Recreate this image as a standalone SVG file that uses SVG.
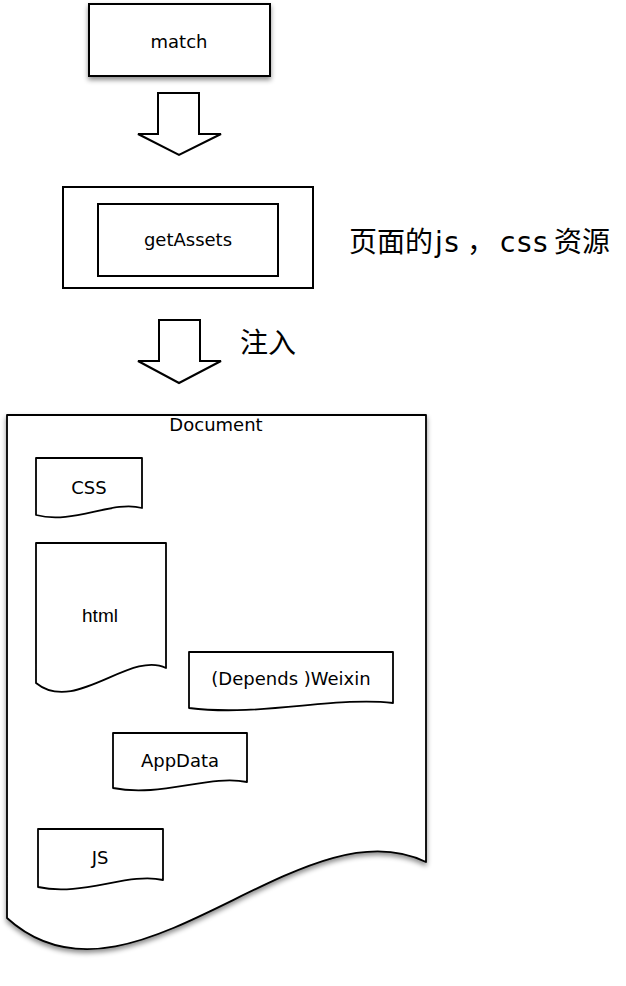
<svg xmlns="http://www.w3.org/2000/svg" width="626" height="986" viewBox="0 0 626 986">
<defs>
<filter id="sh" x="-10%" y="-10%" width="120%" height="130%">
<feDropShadow dx="0" dy="3" stdDeviation="2.5" flood-color="#000" flood-opacity="0.45"/>
</filter>
<style>
.box{fill:#fff;stroke:#000;stroke-width:2}
.doc{fill:#fff;stroke:#000;stroke-width:1.8;stroke-linejoin:round}
.arrow{fill:#fff;stroke:#000;stroke-width:2;stroke-linejoin:miter}
.lbl{font-family:"DejaVu Sans","Liberation Sans",sans-serif;font-size:18px;fill:#000;text-anchor:middle}
.hel{font-family:"Liberation Sans",Arial,sans-serif;font-size:19px;fill:#000;text-anchor:middle}
.cjk{font-family:"Liberation Sans","Noto Sans CJK SC",sans-serif;font-size:28px;fill:#000}
.lat{font-family:"DejaVu Sans","Noto Sans CJK SC",sans-serif;letter-spacing:1.5px}
</style>
</defs>
<rect width="626" height="986" fill="#fff"/>

<g id="match">
<rect class="box" x="89" y="4" width="181" height="72" filter="url(#sh)"/>
<text class="lbl" x="179" y="48" font-size="19.5">match</text>
</g>

<g id="getAssets-outer">
<rect class="box" x="63" y="187" width="250" height="101"/>
</g>
<g id="getAssets">
<rect class="box" x="98" y="204" width="180" height="72"/>
<text class="lbl" x="188" y="246">getAssets</text>
</g>

<g id="label-resources">
<text class="cjk" y="252"><tspan x="349">页面的</tspan><tspan class="lat" x="435">js</tspan><tspan x="467">，</tspan><tspan class="lat" x="500">css</tspan><tspan x="554">资源</tspan></text>
</g>

<g id="label-inject">
<text class="cjk" x="240" y="353">注入</text>
</g>

<g id="connectors">
<polygon class="arrow" points="158,93 199,93 199,134 221,134 179,155 138,134 158,134"/>
<polygon class="arrow" points="159,320 200,320 200,361 221,361 179,383 138,361 159,361"/>
</g>

<g id="document">
<path class="doc" filter="url(#sh)" d="M7,415 H426 V862 C300,800 130,1030 7,918 Z"/>
<text class="lbl" x="216" y="431" font-size="20">Document</text>
</g>

<g id="css">
<path class="doc" d="M36,458 H142 V508 C112,500 73,525 36,515 Z"/>
<text class="lbl" x="89" y="494">CSS</text>
</g>

<g id="html">
<path class="doc" d="M36,543 H166 V668 C130,650 75,715 36,683 Z"/>
<text class="hel" x="100" y="622">html</text>
</g>

<g id="weixin">
<path class="doc" d="M189,652 H393 V703 C336,696 260,717 189,708 Z"/>
<text class="lbl" x="291" y="685">(Depends )Weixin</text>
</g>

<g id="appdata">
<path class="doc" d="M113,733 H247 V782 C210,774 160,798 113,788 Z"/>
<text class="lbl" x="180" y="767" font-size="19.5">AppData</text>
</g>

<g id="js">
<path class="doc" d="M38,829 H163 V880 C128,872 82,897 38,887 Z"/>
<text class="lbl" x="100" y="864">JS</text>
</g>
</svg>
